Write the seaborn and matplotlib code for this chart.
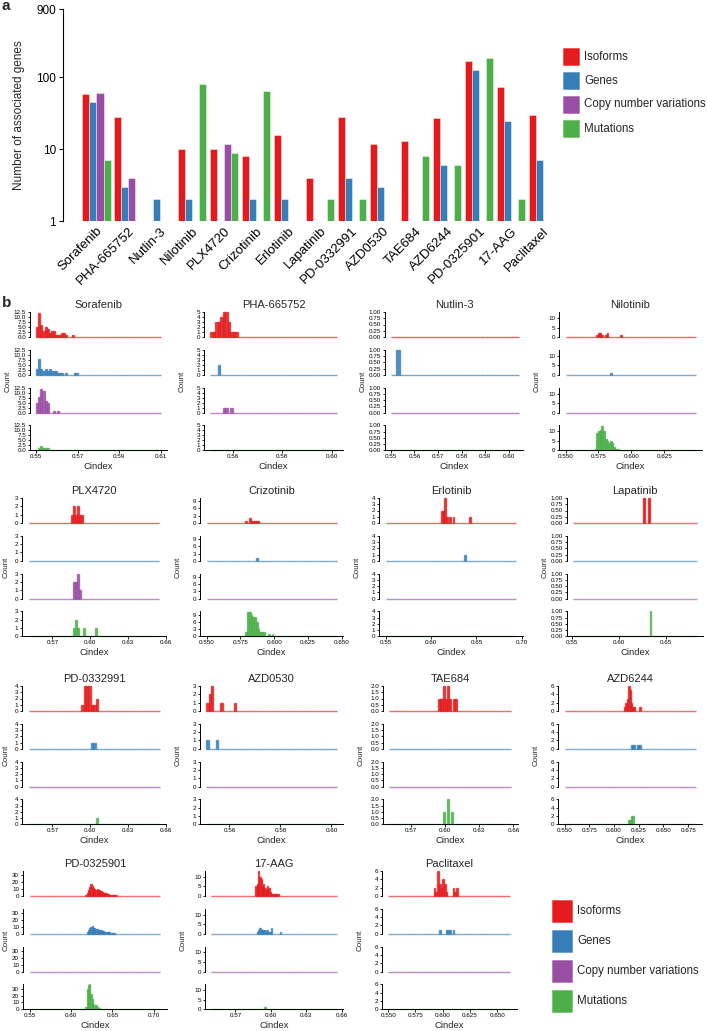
import numpy as np
import pandas as pd
import matplotlib
matplotlib.use("Agg")
import matplotlib.pyplot as plt
from matplotlib.colors import to_rgba
from matplotlib.patches import Rectangle
from matplotlib.ticker import NullLocator
import seaborn as sns

# ---------------------------------------------------------------- data
drugs = ["Sorafenib", "PHA-665752", "Nutlin-3", "Nilotinib", "PLX4720",
         "Crizotinib", "Erlotinib", "Lapatinib", "PD-0332991", "AZD0530",
         "TAE684", "AZD6244", "PD-0325901", "17-AAG", "Paclitaxel"]
features = ["Isoforms", "Genes", "Copy number variations", "Mutations"]
feature_colors = ["#E41A1C", "#377EB8", "#984EA3", "#4DAF4A"]

# panel a: number of associated genes per drug
n_isoforms = [58, 28, 0, 10, 10, 8, 16, 4, 28, 12, 13, 27, 170, 73, 30]
n_genes = [45, 3, 2, 2, 0, 2, 2, 0, 4, 3, 0, 6, 128, 25, 7]
n_cnv = [61, 4, 0, 0, 12, 0, 0, 0, 0, 0, 0, 0, 0, 0, 0]
n_mutations = [7, 0, 0, 80, 9, 65, 0, 2, 2, 0, 8, 6, 185, 2, 0]

# panel b: Cindex range and bin width per drug
cindex_lo = [0.550, 0.551, 0.5502, 0.550, 0.551, 0.550, 0.550, 0.551,
             0.551, 0.551, 0.551, 0.550, 0.550, 0.5495, 0.550]
cindex_hi = [0.610, 0.602, 0.6034, 0.6487, 0.655, 0.646, 0.694, 0.683,
             0.655, 0.602, 0.6586, 0.6824, 0.708, 0.6559, 0.6625]
bin_width = [0.001, 0.001, 0.0018, 0.0013, 0.0016, 0.0013, 0.0018, 0.001,
             0.0019, 0.0009, 0.0017, 0.0014, 0.0015, 0.0011, 0.0016]

x_ticks = [[0.55, 0.57, 0.59, 0.61], [0.56, 0.58, 0.60],
           [0.55, 0.56, 0.57, 0.58, 0.59, 0.60], [0.550, 0.575, 0.600, 0.625],
           [0.57, 0.60, 0.63, 0.66], [0.550, 0.575, 0.600, 0.625, 0.650],
           [0.55, 0.60, 0.65, 0.70], [0.55, 0.60, 0.65],
           [0.57, 0.60, 0.63, 0.66], [0.56, 0.58, 0.60],
           [0.57, 0.60, 0.63, 0.66], [0.550, 0.575, 0.600, 0.625, 0.650, 0.675],
           [0.55, 0.60, 0.65, 0.70], [0.57, 0.60, 0.63, 0.66],
           [0.550, 0.575, 0.600, 0.625, 0.650]]
x_fmt = ["%.2f", "%.2f", "%.2f", "%.3f", "%.2f", "%.3f", "%.2f", "%.2f",
         "%.2f", "%.2f", "%.2f", "%.3f", "%.2f", "%.2f", "%.3f"]
y_ticks = [[0, 2.5, 5, 7.5, 10, 12.5], [0, 1, 2, 3, 4, 5], [0, .25, .5, .75, 1],
           [0, 5, 10], [0, 1, 2, 3], [0, 3, 6, 9], [0, 1, 2, 3, 4],
           [0, .25, .5, .75, 1], [0, 1, 2, 3, 4], [0, 1, 2, 3],
           [0, .5, 1, 1.5, 2], [0, 2, 4, 6], [0, 10, 20, 30], [0, 5, 10],
           [0, 2, 4, 6]]
y_top = [12.5, 5, 1, 13.2, 3, 10.3, 4, 1, 4, 3, 2, 6, 36, 13, 6]
y_fmt = ["%.1f", "%d", "%.2f", "%d", "%d", "%d", "%d", "%.2f", "%d", "%d",
         "%.1f", "%d", "%d", "%d", "%d"]

# histogram counts: first bin start (Cindex) and consecutive bin counts
iso_start = [0.5500, 0.5510, None, 0.5731, 0.5847, 0.5791, 0.6112, 0.6262,
             0.5927, 0.5510, 0.5933, 0.6108, 0.6174, 0.5869, 0.5913]
iso_counts = [
    [5, 12, 6, 3, 5, 4, 2, 3, 3, 1, 1, 1, 2, 2, 1, 0, 0, 1],
    [1, 1, 3, 3, 4, 5, 5, 3, 1, 1, 1],
    [],
    [1, 2, 2, 1, 0, 1, 2, 0, 0, 0, 0, 0, 0, 0, 1],
    [1, 2, 1, 2, 1, 1],
    [1, 0, 2, 1, 1, 1, 1, 1],
    [2, 2, 4, 1, 0, 1, 0, 1, 0, 0, 0, 0, 0, 0, 0, 0, 0, 1],
    [1, 1, 0, 0, 0, 1, 1],
    [1, 4, 4, 4, 1, 1, 2],
    [1, 2, 3, 0, 0, 0, 1, 0, 0, 0, 0, 0, 1],
    [1, 1, 1, 2, 1, 2, 1, 0, 1, 1],
    [1, 2, 3, 6, 5, 2, 1, 1, 0, 0, 0, 1],
    [2, 5, 9, 13, 17, 15, 12, 10, 9, 10, 8, 8, 7, 6, 5, 5, 4, 3, 3, 2, 2,
     1, 1, 1, 1],
    [5, 6, 13, 10, 9, 5, 6, 4, 3, 5, 4, 2, 1, 1, 1, 1, 1, 1],
    [2, 1, 6, 3, 2, 4, 3, 1, 0, 0, 0, 2, 1, 2],
]
gene_start = [0.5500, 0.5540, 0.5525, 0.5840, None, 0.5865, 0.6365, None,
              0.6007, 0.5510, None, 0.6166, 0.6190, 0.5877, 0.5965]
gene_counts = [
    [3, 8, 3, 2, 3, 2, 3, 2, 2, 2, 1, 1, 1, 0, 1, 0, 0, 0, 1, 1],
    [2], [1], [1], [], [1], [1], [],
    [1, 1],
    [1, 0, 0, 0, 1],
    [],
    [1, 1, 1, 0, 1, 1, 1],
    [3, 6, 9, 10, 11, 9, 8, 7, 7, 6, 5, 5, 4, 4, 3, 3, 2, 2, 2, 1, 1, 1, 1],
    [1, 2, 3, 2, 2, 2, 2, 1, 2, 1, 1, 3, 0, 0, 0, 0, 0, 0, 1],
    [1, 0, 0, 0, 1, 1, 1, 0, 1],
]
cnv_start = [0.5500, 0.5558, None, None, 0.5865, None, None, None,
             None, None, None, None, None, None, None]
cnv_counts = [
    [5, 8, 12, 11, 6, 5, 0, 0, 1, 0, 1],
    [1, 1, 0, 1], [], [],
    [2, 2, 3, 1],
    [], [], [], [], [], [], [], [], [], [],
]
mut_start = [0.5500, None, None, 0.5720, 0.5865, 0.5791, None, 0.6335,
             0.6043, None, 0.5990, 0.6149, 0.6182, 0.5946, None]
mut_counts = [
    [0, 1, 2, 1, 1, 1],
    [], [],
    [1, 9, 10, 11, 13, 10, 6, 5, 4, 5, 4, 2, 1, 1],
    [1, 2, 1, 0, 0, 1, 0, 0, 0, 0, 0, 1],
    [2, 10, 10, 9, 8, 8, 6, 3, 2, 2, 2, 0, 0, 1, 0, 1],
    [],
    [1],
    [1],
    [],
    [1, 0, 2, 0, 1],
    [1, 1, 2, 2],
    [3, 30, 35, 36, 22, 15, 8, 4, 7, 3, 2, 2, 1, 1, 1, 1, 1],
    [1],
    [],
]
hist_start = [iso_start, gene_start, cnv_start, mut_start]
hist_counts = [iso_counts, gene_counts, cnv_counts, mut_counts]

# ---------------------------------------------------------------- layout
W, H = 707, 1031
panel_left_px = [30, 204, 385, 559, 22, 200, 379, 567, 22, 200, 383, 558, 23, 205, 382]
panel_right_px = [167, 343, 523, 702, 166, 343, 523, 703, 166, 343, 518, 702, 167, 343, 517]
row_top_px = [312, 498, 686, 871]
sub_pitch, sub_h = 37.8, 25


def box(left, top, right, bottom):
    return [left / W, 1 - bottom / H, (right - left) / W, (bottom - top) / H]


sns.set_theme(style="ticks")
plt.rcParams["font.family"] = ["Liberation Sans", "DejaVu Sans"]
plt.rcParams["axes.edgecolor"] = "black"
plt.rcParams["xtick.color"] = "black"
plt.rcParams["ytick.color"] = "black"

fig = plt.figure(figsize=(W / 100, H / 100), dpi=100)

# ---------------------------------------------------------------- panel a
ax = fig.add_axes(box(63, 9, 559, 221))
df = pd.DataFrame({
    "drug": drugs * 4,
    "feature": np.repeat(features, len(drugs)),
    "n": n_isoforms + n_genes + n_cnv + n_mutations,
})
df["n"] = df["n"].replace(0, np.nan)
sns.barplot(data=df, x="drug", y="n", hue="feature", order=drugs,
            hue_order=features, palette=feature_colors, width=0.88,
            legend=False, edgecolor=(1, 1, 1, 0.6), linewidth=0.5,
            saturation=1, ax=ax)
ax.set_yscale("log", nonpositive="clip")
ax.set_ylim(1, 900)
ax.set_xlim(-1.05, 14.5)
ax.set_yticks([1, 10, 100, 900])
ax.set_yticklabels(["1", "10", "100", "900"], fontsize=8.5)
ax.yaxis.set_minor_locator(NullLocator())
ax.set_xlabel("")
ax.set_ylabel("Number of associated genes", fontsize=8.5, labelpad=8)
sns.despine(ax=ax, bottom=True)
ax.spines["left"].set_linewidth(0.8)
ax.tick_params(axis="x", length=0, pad=3, labelsize=9.5)
ax.tick_params(axis="y", length=3, width=0.8, pad=2)
for t in ax.get_xticklabels():
    t.set_rotation(45)
    t.set_ha("right")
    t.set_rotation_mode("anchor")

for k, (name, col) in enumerate(zip(features, feature_colors)):
    top = 48 + k * 24
    fig.add_artist(Rectangle((563 / W, 1 - (top + 17) / H), 16 / W, 17 / H,
                             transform=fig.transFigure, facecolor=col,
                             edgecolor=to_rgba(col, 0.5), linewidth=0.6))
    fig.text(584 / W, 1 - (top + 8.5) / H, name, fontsize=8.3, va="center")

# ---------------------------------------------------------------- panel b
for i, drug in enumerate(drugs):
    r = i // 4
    lo, hi, bw = cindex_lo[i], cindex_hi[i], bin_width[i]
    edges = list(np.arange(lo, hi + bw * 0.5, bw))
    pad = 0.05 * (hi - lo)
    left, right = panel_left_px[i], panel_right_px[i]
    for k, col in enumerate(feature_colors):
        top = row_top_px[r] + k * sub_pitch
        sax = fig.add_axes(box(left, top, right, top + sub_h))
        start, counts = hist_start[k][i], hist_counts[k][i]
        if start is None:
            xs, ws = [lo + bw / 2], [0]
        else:
            idx0 = int(round((start - lo) / bw))
            xs = lo + (idx0 + np.arange(len(counts)) + 0.5) * bw
            ws = counts
        hist_df = pd.DataFrame({"cindex": xs, "n": ws})
        sns.histplot(data=hist_df, x="cindex", weights="n", bins=edges,
                     color=col, linewidth=1.0, ax=sax)
        for p in sax.patches:
            p.set_alpha(None)
            p.set_facecolor(to_rgba(col, 0.85))
            p.set_edgecolor(to_rgba(col, 0.7))
            p.set_linewidth(1.0)
            p.set_clip_on(False)
        sax.set_xlim(lo - pad, hi + pad)
        sax.set_ylim(0, y_top[i])
        sax.set_yticks(y_ticks[i])
        sax.set_yticklabels([y_fmt[i] % v for v in y_ticks[i]])
        sax.set_xlabel("")
        sax.set_ylabel("")
        sax.spines["top"].set_visible(False)
        sax.spines["right"].set_visible(False)
        sax.spines["left"].set_linewidth(0.7)
        sax.tick_params(labelsize=4.5, length=1.8, width=0.6, pad=1)
        if k < 3:
            sax.spines["bottom"].set_visible(False)
            sax.set_xticks([])
        else:
            sax.spines["bottom"].set_linewidth(0.7)
            sax.set_xticks(x_ticks[i])
            sax.set_xticklabels([x_fmt[i] % v for v in x_ticks[i]])
    cx = (left + right) / 2 / W
    fig.text(cx, 1 - (row_top_px[r] - 7) / H, drug, fontsize=8,
             ha="center", va="center")
    last_bottom = row_top_px[r] + 3 * sub_pitch + sub_h
    fig.text(cx, 1 - (last_bottom + 16.5) / H, "Cindex", fontsize=6.8,
             ha="center", va="center")
    fig.text(max(left - 22, 6) / W, 1 - (row_top_px[r] + last_bottom) / 2 / H,
             "Count", fontsize=5.8, rotation=90, ha="center", va="center")

for k, (name, col) in enumerate(zip(features, feature_colors)):
    top = 900 + k * 30
    fig.add_artist(Rectangle((552 / W, 1 - (top + 22) / H), 20 / W, 22 / H,
                             transform=fig.transFigure, facecolor=col,
                             edgecolor=to_rgba(col, 0.5), linewidth=0.6))
    fig.text(577 / W, 1 - (top + 11) / H, name, fontsize=8.3, va="center")

fig.text(2 / W, 1 - 6 / H, "a", fontsize=11, fontweight="bold", va="center")
fig.text(2 / W, 1 - 303 / H, "b", fontsize=11, fontweight="bold", va="center")

fig.savefig("out.png", dpi=100)
